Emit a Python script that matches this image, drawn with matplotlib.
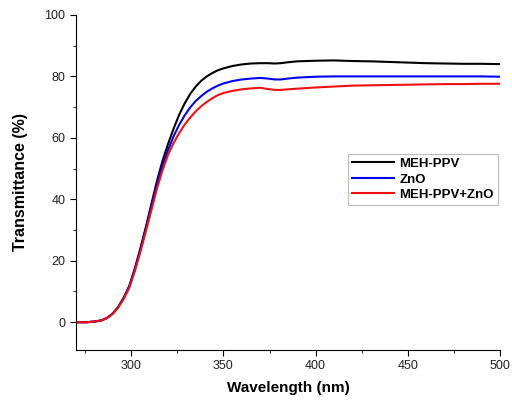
import matplotlib
matplotlib.use('Agg')
import matplotlib.pyplot as plt
from matplotlib.ticker import MultipleLocator

plt.rcParams['font.family'] = ['Liberation Sans', 'DejaVu Sans']

# ---- data ----
wavelength = [270, 276, 280, 284, 287, 290, 293, 296, 299, 302, 305, 308, 311,
              314, 317, 320, 323, 326, 329, 332, 335, 338, 341, 344, 347, 350,
              355, 360, 365, 370, 374, 378, 381, 385, 390, 400, 410, 420, 430,
              440, 450, 460, 470, 480, 490, 500]
meh_ppv = [0.0, 0.0, 0.2, 0.6, 1.4, 2.8, 5.0, 8.0, 11.8, 17.5, 24.0, 31.0,
           38.5, 46.0, 52.5, 58.0, 63.0, 67.5, 71.2, 74.3, 76.7, 78.6, 80.0,
           81.1, 82.0, 82.6, 83.4, 83.9, 84.2, 84.3, 84.3, 84.2, 84.3, 84.6,
           84.9, 85.1, 85.2, 85.0, 84.9, 84.7, 84.5, 84.3, 84.2, 84.1, 84.1,
           84.0]
zno = [0.0, 0.0, 0.2, 0.6, 1.4, 2.8, 4.9, 7.9, 11.6, 17.2, 23.6, 30.5, 37.8,
       45.0, 51.0, 56.0, 60.5, 64.2, 67.3, 69.9, 72.0, 73.6, 75.0, 76.1, 77.0,
       77.7, 78.5, 79.0, 79.3, 79.5, 79.3, 79.0, 79.0, 79.3, 79.6, 79.9, 80.0,
       80.0, 80.0, 80.0, 80.0, 80.0, 80.0, 80.0, 80.0, 79.9]
meh_zno = [0.0, 0.0, 0.2, 0.6, 1.4, 2.7, 4.8, 7.6, 11.2, 16.6, 22.8, 29.6,
           36.5, 43.5, 49.5, 54.5, 58.3, 61.5, 64.3, 66.6, 68.6, 70.3, 71.7,
           72.9, 73.9, 74.6, 75.3, 75.8, 76.1, 76.3, 75.9, 75.6, 75.6, 75.8,
           76.0, 76.4, 76.7, 77.0, 77.1, 77.2, 77.3, 77.4, 77.5, 77.5, 77.6,
           77.6]

labels = ['MEH-PPV', 'ZnO', 'MEH-PPV+ZnO']
colors = ['black', '#0000ee', '#ee1111']

fig = plt.figure(figsize=(5.12, 4.04), dpi=100)
ax = fig.add_axes([0.148, 0.134, 0.829, 0.829])

for y, lab, c in zip([meh_ppv, zno, meh_zno], labels, colors):
    ax.plot(wavelength, y, color=c, lw=1.5, label=lab)

ax.set_xlim(270, 500)
ax.set_ylim(-9, 100)
ax.xaxis.set_major_locator(MultipleLocator(50))
ax.xaxis.set_minor_locator(MultipleLocator(25))
ax.yaxis.set_major_locator(MultipleLocator(20))
ax.yaxis.set_minor_locator(MultipleLocator(10))
ax.tick_params(which='both', direction='out', labelsize=9, labelcolor='#222222')
ax.tick_params(which='major', length=4)
ax.tick_params(which='minor', length=2.5)
ax.spines['top'].set_visible(False)
ax.spines['right'].set_visible(False)

ax.set_xlabel('Wavelength (nm)', fontsize=11, fontweight='bold', labelpad=6)
ax.set_ylabel('Transmittance (%)', fontsize=11.5, fontweight='bold', labelpad=12)

leg = ax.legend(loc='upper right', bbox_to_anchor=(1.01, 0.605), fancybox=False,
                edgecolor='#aaaaaa', handlelength=3.2, borderpad=0.3,
                labelspacing=0.25, handletextpad=0.4,
                prop={'weight': 'bold', 'size': 9.5})
leg.get_frame().set_linewidth(0.8)

fig.savefig('out.png', dpi=100)
